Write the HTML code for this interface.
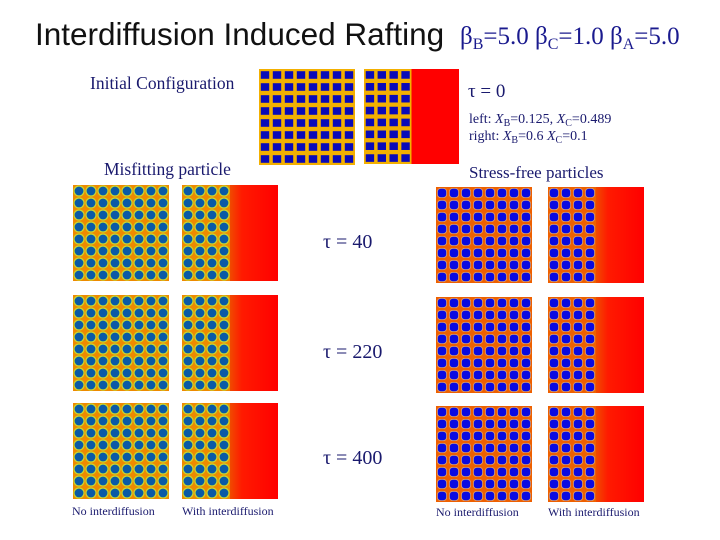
<!DOCTYPE html>
<html><head><meta charset="utf-8"><style>
body{margin:0;background:#fff;width:720px;height:540px;overflow:hidden}
svg{display:block}
.t{font-family:"Liberation Serif",serif;fill:#1a1a6e}
</style></head><body>
<svg id="s" width="720" height="540" xmlns="http://www.w3.org/2000/svg">
<defs>
<linearGradient id="rg" x1="0" x2="1"><stop offset="0" stop-color="#f04a00"/><stop offset="0.25" stop-color="#ff1a00"/><stop offset="1" stop-color="#ff0000"/></linearGradient>
</defs>
<text x="35" y="45" font-family="Liberation Sans, sans-serif" font-size="31.5" fill="#111">Interdiffusion Induced Rafting</text>
<text x="460" y="44" font-family="Liberation Serif, serif" font-size="25" fill="#1a1a8e">β<tspan font-size="16" dy="5">B</tspan><tspan dy="-5">=5.0 β</tspan><tspan font-size="16" dy="5">C</tspan><tspan dy="-5">=1.0 β</tspan><tspan font-size="16" dy="5">A</tspan><tspan dy="-5">=5.0</tspan></text>
<text class="t" x="90" y="89" font-size="17.5">Initial Configuration</text>
<text class="t" x="468" y="97" font-size="19" fill="#111">τ = 0</text>
<text class="t" x="469" y="123" font-size="14">left: <tspan font-style="italic">X</tspan><tspan font-size="10" dy="3">B</tspan><tspan dy="-3">=0.125, </tspan><tspan font-style="italic">X</tspan><tspan font-size="10" dy="3">C</tspan><tspan dy="-3">=0.489</tspan></text>
<text class="t" x="469" y="140" font-size="14">right: <tspan font-style="italic">X</tspan><tspan font-size="10" dy="3">B</tspan><tspan dy="-3">=0.6 </tspan><tspan font-style="italic">X</tspan><tspan font-size="10" dy="3">C</tspan><tspan dy="-3">=0.1</tspan></text>
<text class="t" x="104" y="175" font-size="17.5">Misfitting particle</text>
<text class="t" x="469" y="178" font-size="17">Stress-free particles</text>
<text class="t" x="323" y="248" font-size="20" fill="#111">τ = 40</text>
<text class="t" x="323" y="358" font-size="20" fill="#111">τ = 220</text>
<text class="t" x="323" y="464" font-size="20" fill="#111">τ = 400</text>
<text class="t" x="72" y="515" font-size="12">No interdiffusion</text>
<text class="t" x="182" y="515" font-size="12">With interdiffusion</text>
<text class="t" x="436" y="516" font-size="12">No interdiffusion</text>
<text class="t" x="548" y="516" font-size="12">With interdiffusion</text>
<g id="panels"></g>
</svg>
<script>
const NS="http://www.w3.org/2000/svg";
const g=document.getElementById('panels');
function el(t,a,p){const e=document.createElementNS(NS,t);for(const k in a)e.setAttribute(k,a[k]);(p||g).appendChild(e);return e;}
const panels=[
 [259,69,96,8,'init'],[364,69,95,4,'init'],
 [73,185,96,8,'mis'],[182,185,96,4,'mis'],[436,187,96,8,'free'],[548,187,96,4,'free'],
 [73,295,96,8,'mis'],[182,295,96,4,'mis'],[436,297,96,8,'free'],[548,297,96,4,'free'],
 [73,403,96,8,'mis'],[182,403,96,4,'mis'],[436,406,96,8,'free'],[548,406,96,4,'free']
];
panels.forEach((p,i)=>{
 const [x,y,s,cols,type]=p;
 const grp=el('g',{});
 
 
 const bg={init:'#f3b000',mis:'#ee8a00',free:'#ee6000'}[type];
 el('rect',{x:x,y:y,width:s,height:s,fill:bg},grp);
 const c=s/8;
 if(cols<8){el('rect',{x:x+c*4,y:y,width:s-c*4,height:s,fill:type==='init'?'#ff0000':'url(#rg)'},grp);}
 for(let r=0;r<8;r++)for(let k=0;k<cols;k++){
  const cx=x+c*(k+0.5),cy=y+c*(r+0.5);
  if(type==='init'){el('rect',{x:cx-4.2,y:cy-3.8,width:8.4,height:7.6,fill:'#0a0ab8'},grp);}
  else if(type==='mis'){el('circle',{cx:cx,cy:cy,r:5.6,fill:'#c8d830'},grp);el('circle',{cx:cx,cy:cy,r:4.4,fill:'#0a5aa6'},grp);}
  else{el('rect',{x:cx-5,y:cy-5,width:10,height:10,rx:3.5,fill:'#d8a070'},grp);el('rect',{x:cx-4.2,y:cy-4.2,width:8.4,height:8.4,rx:3,fill:'#0a0ae0'},grp);}
 }
});
</script>
</body></html>
